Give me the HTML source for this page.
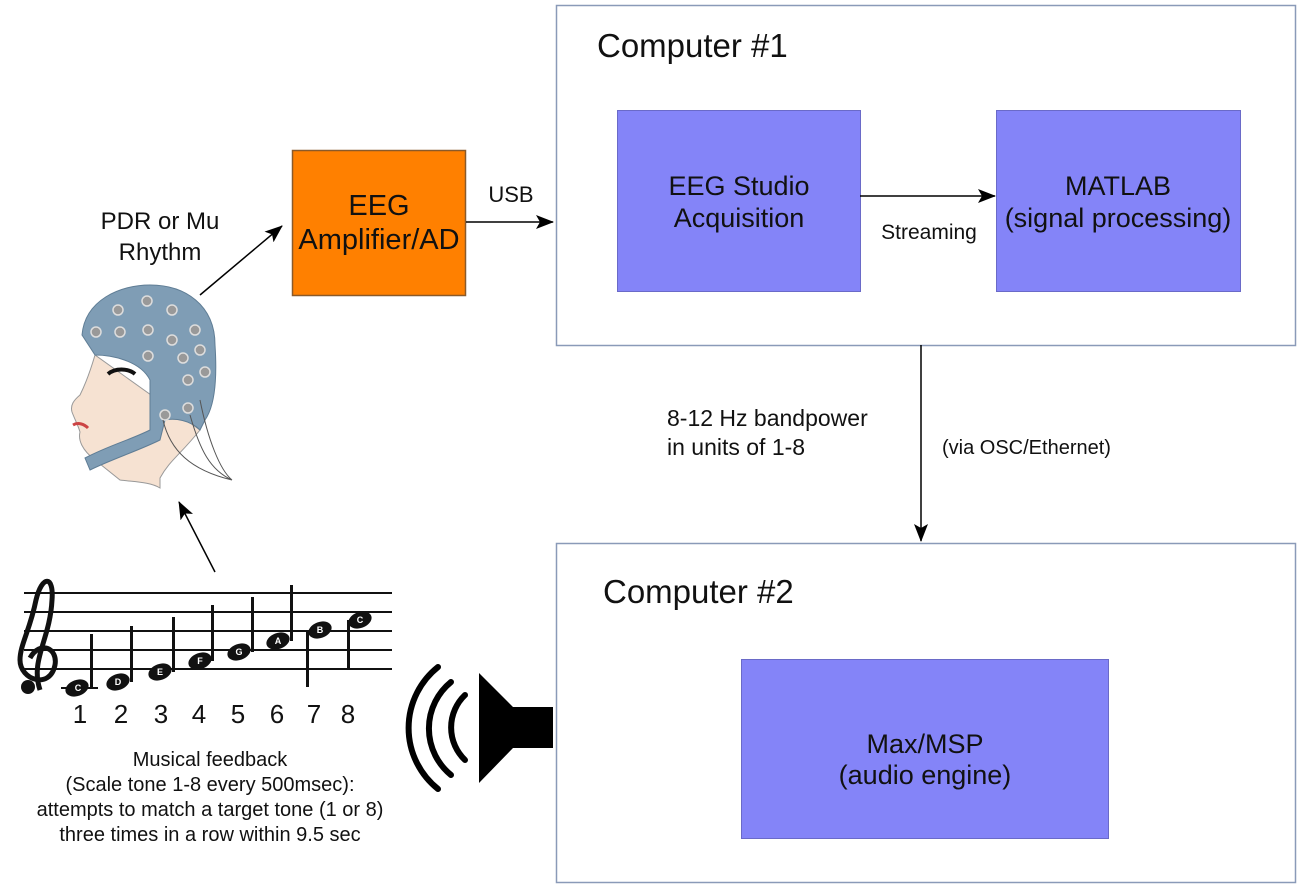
<!DOCTYPE html>
<html><head><meta charset="utf-8"><style>
body{margin:0;background:#fff;}
svg text{font-family:"Liberation Sans",sans-serif;fill:#111;}
</style></head><body>
<svg width="1300" height="887" viewBox="0 0 1300 887" xmlns="http://www.w3.org/2000/svg">
<defs><marker id="ah" markerWidth="18" markerHeight="14" refX="17" refY="7" orient="auto" markerUnits="userSpaceOnUse"><path d="M0,0 L18,7 L0,14 L4,7 z" fill="#000"/></marker></defs>
<!-- computer 1 -->
<rect x="556.5" y="5.5" width="739" height="340" fill="#fff" stroke="#8a9ab8" stroke-width="1.5"/>
<text x="597" y="57" font-size="33">Computer #1</text>
<rect x="617.5" y="110.5" width="243" height="181" fill="#8484f8" stroke="#6a6ac8"/>
<text x="739" y="195" font-size="27" text-anchor="middle">EEG Studio</text>
<text x="739" y="227" font-size="27" text-anchor="middle">Acquisition</text>
<rect x="996.5" y="110.5" width="244" height="181" fill="#8484f8" stroke="#6a6ac8"/>
<text x="1118" y="195" font-size="27" text-anchor="middle">MATLAB</text>
<text x="1118" y="227" font-size="27" text-anchor="middle">(signal processing)</text>
<line x1="860" y1="196" x2="995" y2="196" stroke="#000" stroke-width="1.5" marker-end="url(#ah)"/>
<text x="929" y="239" font-size="21" text-anchor="middle">Streaming</text>
<!-- amplifier -->
<rect x="292.5" y="150.5" width="173" height="145" fill="#ff8000" stroke="#8a5a2a" stroke-width="1.5"/>
<text x="379" y="215" font-size="29" text-anchor="middle">EEG</text>
<text x="379" y="249" font-size="29" text-anchor="middle">Amplifier/AD</text>
<line x1="466" y1="222" x2="553" y2="222" stroke="#000" stroke-width="1.5" marker-end="url(#ah)"/>
<text x="511" y="202" font-size="22" text-anchor="middle">USB</text>
<line x1="200" y1="295" x2="282" y2="226" stroke="#000" stroke-width="1.5" marker-end="url(#ah)"/>
<text x="160" y="229" font-size="24" text-anchor="middle">PDR or Mu</text>
<text x="160" y="260" font-size="24" text-anchor="middle">Rhythm</text>
<!-- vertical -->
<line x1="921" y1="345" x2="921" y2="541" stroke="#000" stroke-width="1.5" marker-end="url(#ah)"/>
<text x="667" y="426" font-size="23">8-12 Hz bandpower</text>
<text x="667" y="455" font-size="23">in units of 1-8</text>
<text x="942" y="454" font-size="20">(via OSC/Ethernet)</text>
<!-- computer 2 -->
<rect x="556.5" y="543.5" width="739" height="339" fill="#fff" stroke="#8a9ab8" stroke-width="1.5"/>
<text x="603" y="603" font-size="33">Computer #2</text>
<rect x="741.5" y="659.5" width="367" height="179" fill="#8484f8" stroke="#6a6ac8"/>
<text x="925" y="753" font-size="27" text-anchor="middle">Max/MSP</text>
<text x="925" y="784" font-size="27" text-anchor="middle">(audio engine)</text>
<!-- speaker -->
<path d="M479,673 L513,707 L553,707 L553,748 L513,748 L479,783 z" fill="#000"/>
<g fill="none" stroke="#000" stroke-width="6" stroke-linecap="round">
<path d="M465,695 A45,45 0 0 0 465,760"/>
<path d="M451,682 A60,60 0 0 0 451,775"/>
<path d="M438,667 A78,78 0 0 0 438,789"/>
</g>
<!-- arrow staff to head -->
<line x1="215" y1="572" x2="179" y2="502" stroke="#000" stroke-width="1.5" marker-end="url(#ah)"/>
<!-- staff -->
<g stroke="#111" stroke-width="2">
<line x1="24" y1="593" x2="392" y2="593"/><line x1="24" y1="612" x2="392" y2="612"/>
<line x1="24" y1="631" x2="392" y2="631"/><line x1="24" y1="650" x2="392" y2="650"/>
<line x1="24" y1="669" x2="392" y2="669"/><line x1="61" y1="688" x2="98" y2="688"/>
</g>
<g fill="none" stroke="#111" stroke-width="5">
<path d="M40,690 C30,660 50,640 52,600 C54,575 42,575 36,600 C30,630 20,645 20,660 C20,680 50,690 55,665 C58,648 40,640 30,658"/>
</g>
<circle cx="28" cy="687" r="7" fill="#111"/>
<g fill="#111">
<ellipse cx="77" cy="688" rx="12" ry="8" transform="rotate(-20 77 688)"/><rect x="90" y="634" width="3" height="54"/>
<ellipse cx="118" cy="682" rx="12" ry="8" transform="rotate(-20 118 682)"/><rect x="130" y="626" width="3" height="56"/>
<ellipse cx="160" cy="672" rx="12" ry="8" transform="rotate(-20 160 672)"/><rect x="172" y="617" width="3" height="55"/>
<ellipse cx="200" cy="661" rx="12" ry="8" transform="rotate(-20 200 661)"/><rect x="211" y="605" width="3" height="56"/>
<ellipse cx="239" cy="652" rx="12" ry="8" transform="rotate(-20 239 652)"/><rect x="251" y="597" width="3" height="55"/>
<ellipse cx="278" cy="641" rx="12" ry="8" transform="rotate(-20 278 641)"/><rect x="290" y="585" width="3" height="56"/>
<ellipse cx="320" cy="630" rx="12" ry="8" transform="rotate(-20 320 630)"/><rect x="306" y="630" width="3" height="57"/>
<ellipse cx="360" cy="620" rx="12" ry="8" transform="rotate(-20 360 620)"/><rect x="347" y="620" width="3" height="48"/>
</g>
<g font-size="9" font-weight="bold" text-anchor="middle">
<text x="78" y="691" style="fill:#fff">C</text><text x="118" y="685" style="fill:#fff">D</text><text x="160" y="675" style="fill:#fff">E</text><text x="200" y="664" style="fill:#fff">F</text><text x="239" y="655" style="fill:#fff">G</text><text x="278" y="644" style="fill:#fff">A</text><text x="320" y="633" style="fill:#fff">B</text><text x="360" y="623" style="fill:#fff">C</text>
</g>
<g font-size="26" text-anchor="middle">
<text x="80" y="723">1</text><text x="121" y="723">2</text><text x="161" y="723">3</text><text x="199" y="723">4</text><text x="238" y="723">5</text><text x="277" y="723">6</text><text x="314" y="723">7</text><text x="348" y="723">8</text>
</g>
<g font-size="20" text-anchor="middle">
<text x="210" y="766">Musical feedback</text>
<text x="210" y="791">(Scale tone 1-8 every 500msec):</text>
<text x="210" y="816">attempts to match a target tone (1 or 8)</text>
<text x="210" y="841">three times in a row within 9.5 sec</text>
</g>
<!-- head -->
<path d="M95,355 C90,372 85,385 80,395 C74,400 70,405 72,412 C75,420 78,425 80,432 C78,440 82,450 95,460 L120,480 C135,482 150,482 160,488 L160,478 C170,460 180,455 200,430 Z" fill="#f6e2d2" stroke="#999"/>
<path d="M82,335 C85,300 120,285 150,285 C185,285 215,305 215,345 C218,390 212,410 205,420 L200,430 C190,420 175,418 165,420 L160,440 C140,450 110,460 90,470 L85,458 C110,445 130,440 150,430 L150,380 C140,360 110,355 95,355 Z" fill="#7f9db5" stroke="#5f7d95"/>
<path d="M108,374 C115,368 128,368 135,374" stroke="#111" stroke-width="4" fill="none"/>
<path d="M73,425 C78,422 84,424 88,428" stroke="#c44" stroke-width="3" fill="none"/>
<g fill="#999" stroke="#ddd" stroke-width="1.5">
<circle cx="147" cy="301" r="5"/><circle cx="172" cy="310" r="5"/><circle cx="195" cy="330" r="5"/><circle cx="120" cy="332" r="5"/><circle cx="148" cy="330" r="5"/><circle cx="172" cy="340" r="5"/><circle cx="200" cy="350" r="5"/><circle cx="148" cy="356" r="5"/><circle cx="183" cy="358" r="5"/><circle cx="205" cy="372" r="5"/><circle cx="188" cy="380" r="5"/><circle cx="188" cy="408" r="5"/><circle cx="165" cy="415" r="5"/><circle cx="118" cy="310" r="5"/><circle cx="96" cy="332" r="5"/>
</g>
<path d="M163,420 C170,450 190,470 232,480 M190,415 C200,450 210,470 232,480 M200,400 C208,440 220,470 232,480" stroke="#555" fill="none"/>
</svg>
</body></html>
